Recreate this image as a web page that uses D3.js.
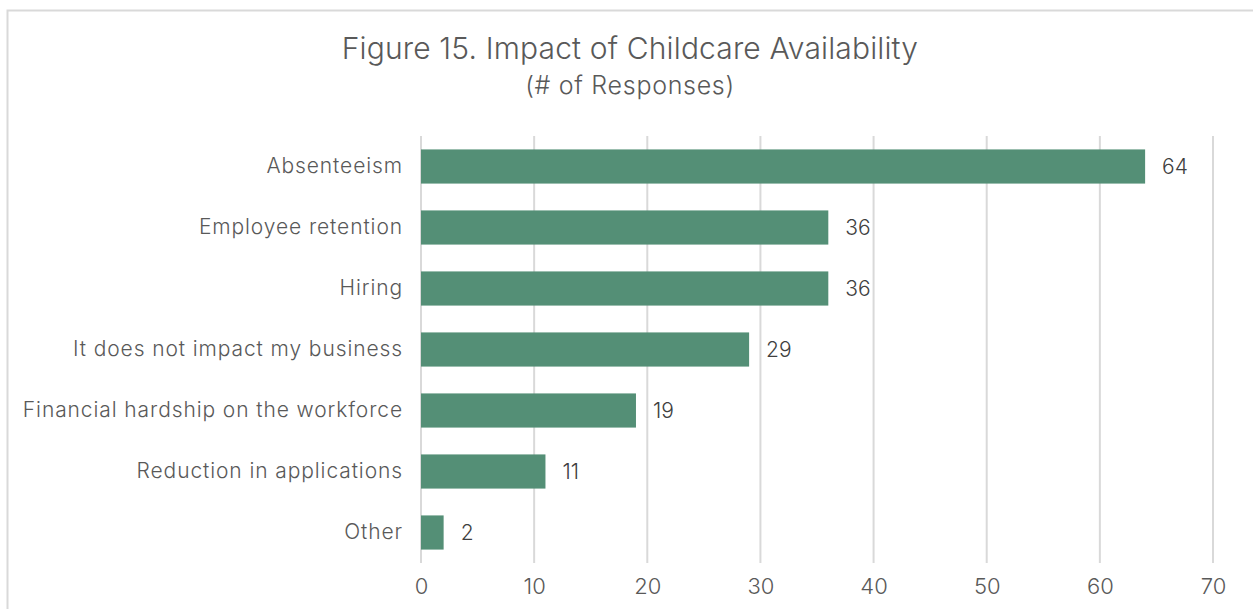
<!DOCTYPE html>
<html><head><meta charset="utf-8">
<script src="https://cdn.jsdelivr.net/npm/d3@7"></script>
<style>body{margin:0;background:#fff}svg{display:block}text{font-family:Inter,Roboto,"Noto Sans",sans-serif}</style>
</head><body>
<script>
const categories = ["Absenteeism","Employee retention","Hiring","It does not impact my business","Financial hardship on the workforce","Reduction in applications","Other"];
const values = [64,36,36,29,19,11,2];
const tickValues = [0,10,20,30,40,50,60,70];
const titleText = "Figure 15. Impact of Childcare Availability";
const subtitleText = "(# of Responses)";

const W = 1253, H = 609;
const svg = d3.select("body").append("svg").attr("width", W).attr("height", H);
svg.append("rect").attr("x", 7.5).attr("y", 10.5).attr("width", 1258).attr("height", 620)
  .attr("fill", "#fff").attr("stroke", "#d9d9d9").attr("stroke-width", 2);

const x = d3.scaleLinear().domain([0, 70]).range([421, 1213]);
const y = d3.scaleBand().domain(categories).range([136, 563]).paddingInner(0.44).paddingOuter(0.22);

svg.append("text").attr("x", 630).attr("y", 59).attr("text-anchor", "middle")
  .attr("font-size", 30).attr("font-weight", 300).attr("fill", "#595959")
  .style("letter-spacing", "0.15px").text(titleText);
svg.append("text").attr("x", 630).attr("y", 94).attr("text-anchor", "middle")
  .attr("font-size", 25).attr("font-weight", 300).attr("fill", "#595959")
  .style("letter-spacing", "0.7px").text(subtitleText);

svg.append("g").selectAll("line").data(tickValues).join("line")
  .attr("x1", d => x(d)).attr("x2", d => x(d)).attr("y1", 136).attr("y2", 563)
  .attr("stroke", "#d9d9d9").attr("stroke-width", 2);

const xAxis = svg.append("g").attr("transform", "translate(0,563)")
  .call(d3.axisBottom(x).tickValues(tickValues).tickSize(0).tickPadding(15));
xAxis.select(".domain").remove();
xAxis.selectAll("text").attr("font-size", 22).attr("font-weight", 300).attr("fill", "#595959").style("font-family", "Inter");

svg.append("g").selectAll("rect").data(values).join("rect")
  .attr("x", x(0)).attr("y", (d, i) => y(categories[i]))
  .attr("width", d => x(d) - x(0)).attr("height", y.bandwidth())
  .attr("fill", "#548f76");

svg.append("g").selectAll("text").data(values).join("text")
  .attr("x", d => x(d) + 17).attr("y", (d, i) => y(categories[i]) + y.bandwidth() / 2)
  .attr("dy", "0.36em").attr("font-size", 21).attr("font-weight", 300).attr("fill", "#404040").text(d => d);

const yAxis = svg.append("g").attr("transform", "translate(421,0)")
  .call(d3.axisLeft(y).tickSize(0).tickPadding(18));
yAxis.select(".domain").remove();
yAxis.selectAll("text").attr("font-size", 21).attr("font-weight", 300).attr("fill", "#595959")
  .style("font-family", "Inter").style("letter-spacing", "0.9px");
</script>
</body></html>
